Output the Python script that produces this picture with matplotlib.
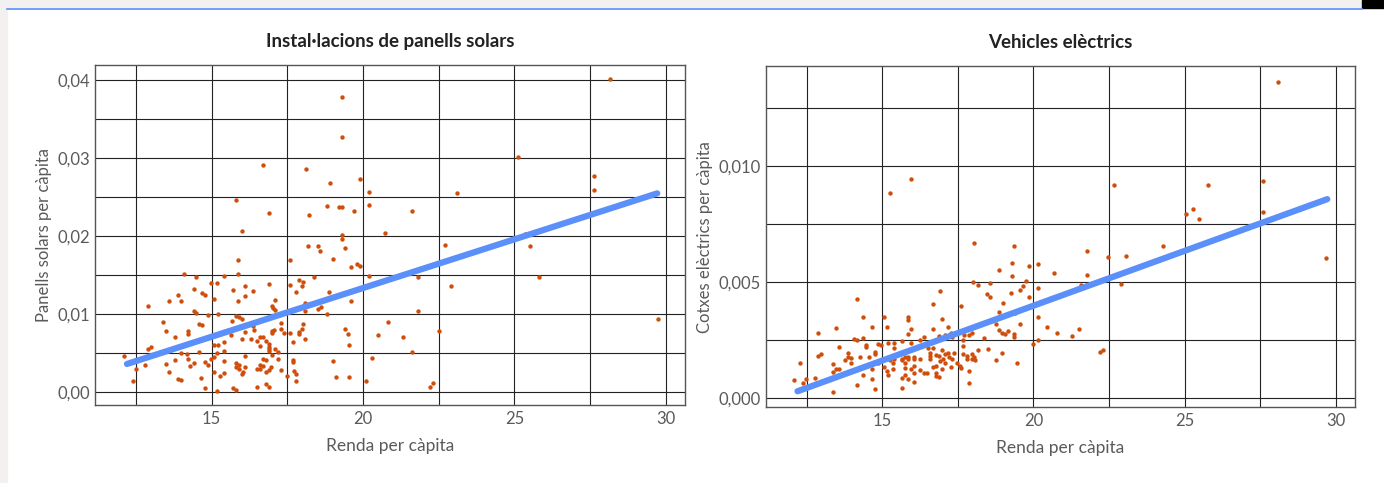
import matplotlib
matplotlib.use('Agg')
import matplotlib.pyplot as plt
from matplotlib.ticker import MultipleLocator, FuncFormatter
from matplotlib.patches import Rectangle
from matplotlib.lines import Line2D

plt.rcParams['font.family'] = ['Lato', 'DejaVu Sans']

# renda per capita (milers) vs panells solars per capita
solar_x = [12.09, 12.40, 12.49, 12.80, 12.88, 12.99, 12.88, 13.40, 13.48, 13.48, 13.59, 13.60, 13.78, 13.78,
           13.89, 13.89, 13.99, 13.99, 13.99, 14.09, 14.19, 14.20, 14.20, 14.20, 14.28, 14.40, 14.40, 14.40,
           14.48, 14.48, 14.58, 14.58, 14.66, 14.68, 14.69, 14.78, 14.79, 14.79, 14.89, 14.89, 14.98, 14.99,
           15.09, 15.09, 15.09, 15.09, 15.19, 15.19, 15.19, 15.20, 15.22, 15.28, 15.39, 15.39, 15.39, 15.39,
           15.39, 15.63, 15.68, 15.69, 15.69, 15.79, 15.79, 15.79, 15.79, 15.88, 15.88, 15.88, 15.89, 15.89,
           15.91, 15.99, 15.99, 16.00, 16.02, 16.09, 16.09, 16.09, 16.09, 16.09, 16.29, 16.38, 16.38,
           16.40, 16.48, 16.49, 16.49, 16.59, 16.59, 16.59, 16.61, 16.69, 16.69, 16.70, 16.79, 16.80, 16.80,
           16.80, 16.88, 16.88, 16.88, 16.88, 16.88, 16.89, 16.89, 16.96, 16.98, 16.98, 16.98, 16.98, 17.03,
           17.07, 17.09, 17.10, 17.10, 17.18, 17.20, 17.28, 17.29, 17.30, 17.39, 17.50, 17.59, 17.60, 17.60,
           17.70, 17.70, 17.70, 17.71, 17.80, 17.80, 17.80, 17.90, 17.90, 17.90, 17.99, 17.99, 18.01, 18.01,
           18.09, 18.09, 18.09, 18.39, 18.50, 18.58, 18.61, 18.80, 18.89, 19.00, 19.00, 19.11, 19.41, 19.50,
           19.52, 19.52, 19.59, 19.60, 19.80, 19.91, 20.11, 20.20, 20.31, 20.51, 20.81, 21.31,
           28.15, 19.31, 19.31, 25.12, 16.71, 18.11, 27.62, 27.62, 18.90, 19.90, 23.12, 20.20, 20.20, 15.79,
           16.90, 18.80, 19.21, 19.31, 19.71, 21.63, 18.21, 16.00, 19.31, 19.31, 19.39, 20.71, 18.19, 18.50,
           22.70, 25.34, 25.52, 25.82, 21.82, 22.90, 21.82, 22.52, 21.61, 22.22, 22.32, 29.75]
solar_y = [0.00466, 0.00150, 0.00303, 0.00355, 0.00551, 0.00581, 0.01111, 0.00906, 0.00786, 0.00363, 0.00261,
           0.01167, 0.00714, 0.00410, 0.01244, 0.00171, 0.01167, 0.00509, 0.00158, 0.01513, 0.00487, 0.00786,
           0.00748, 0.00432, 0.00342, 0.01321, 0.01043, 0.00380, 0.01474, 0.01021, 0.00872, 0.00521, 0.00184,
           0.01269, 0.00863, 0.00389, 0.01252, 0.00060, 0.00987, 0.00350, 0.00423, 0.01406, 0.01201, 0.00603,
           0.00449, 0.00261, 0.01406, 0.00504, 0.00017, 0.01009, 0.00603, 0.00209, 0.01496, 0.00645, 0.00534,
           0.00397, 0.00248, 0.00735, 0.00919, 0.01312, 0.00051, 0.00979, 0.00372, 0.00321, 0.00034, 0.01697,
           0.01513, 0.01167, 0.00962, 0.00346, 0.00299, 0.00684, 0.00239, 0.00936, 0.00261, 0.01368, 0.01231,
           0.00774, 0.00470, 0.00321, 0.00684, 0.01303, 0.00855,
           0.00795, 0.00299, 0.00658, 0.00073, 0.00590, 0.00355, 0.00303, 0.00705, 0.00714, 0.00338, 0.00427,
           0.00662, 0.00410, 0.00256, 0.00107, 0.01385, 0.00620, 0.00585, 0.00556, 0.00526, 0.00291, 0.00064,
           0.00325, 0.01111, 0.00791, 0.00765, 0.00479, 0.01077, 0.00795, 0.00560, 0.01179, 0.01051, 0.00427,
           0.00517, 0.00808, 0.00889, 0.00286, 0.00765, 0.00214, 0.01692, 0.01380, 0.00761, 0.00650, 0.00419,
           0.00393, 0.00274, 0.01282, 0.00235, 0.00150, 0.01440, 0.00774, 0.00748, 0.01359, 0.00808, 0.01415,
           0.00880, 0.01141, 0.01043, 0.00679, 0.01474, 0.01064, 0.01812, 0.01090, 0.01000, 0.01282, 0.01709,
           0.00402, 0.00197, 0.00812, 0.00744, 0.00603, 0.00192, 0.01611, 0.01171, 0.01645, 0.01624, 0.00150,
           0.01496, 0.00436, 0.00735, 0.00902, 0.00709,
           0.0401, 0.0378, 0.0327, 0.0302, 0.0291, 0.0286, 0.0277, 0.0259, 0.0268, 0.0273, 0.0256, 0.0257,
           0.0240, 0.0247, 0.0230, 0.0239, 0.0238, 0.0237, 0.0233, 0.0233, 0.0227, 0.0207, 0.0201, 0.0196,
           0.0185, 0.0204, 0.0188, 0.0188, 0.0189, 0.0203, 0.0188, 0.0148, 0.0148, 0.0136, 0.0104, 0.0078,
           0.0051, 0.0007, 0.0012, 0.0094]

# renda per capita vs cotxes electrics per capita
ev_x = [14.18, 14.35, 15.07, 15.15, 15.87, 15.87, 15.97, 15.87, 14.66, 13.46, 12.88, 14.07, 14.16, 14.37,
        13.57, 14.47, 14.47, 14.86, 14.97, 15.19, 15.38, 15.38, 15.67, 15.95, 16.25, 16.37, 12.97, 12.88,
        13.87, 13.86, 13.77, 13.97, 14.28, 14.77, 14.77, 14.57, 13.97, 13.38, 13.48, 13.57, 13.38, 12.27,
        12.48, 12.79, 12.08, 12.38, 13.38, 14.16, 14.35, 14.65, 14.66, 14.77, 14.86, 15.07, 15.16, 15.19,
        15.27, 15.37, 15.37, 15.38, 15.67, 15.76, 15.86, 15.87, 15.67, 16.06, 16.06, 16.25, 15.77, 16.06,
        15.77, 15.97, 16.26, 15.76, 15.86, 15.67, 16.06, 16.06, 15.65, 16.37,
        19.28, 19.87, 20.16, 18.87, 19.28, 20.67, 17.99, 18.17, 18.57, 19.76, 19.67, 19.56, 20.17, 16.90,
        18.48, 18.57, 19.27, 19.87, 16.68, 17.60, 18.98, 18.87, 19.38, 16.98, 20.16, 18.77, 19.57, 16.68,
        17.17, 18.87, 20.46, 20.77, 21.27, 21.51, 17.28, 17.07, 16.89, 17.30, 17.70, 17.87, 17.98, 17.68,
        18.37, 18.96, 19.06, 19.17, 19.37, 19.37, 19.98, 20.16, 16.50, 16.69, 17.68, 18.17, 18.49, 18.97,
        18.77, 19.47, 16.59, 16.59, 16.59, 16.79, 16.89, 16.97, 17.09, 17.17, 17.21, 17.30, 17.39, 16.90,
        17.00, 17.08, 17.48, 17.28, 17.58, 17.60, 17.69, 17.79, 17.79, 17.98, 18.05, 18.07, 17.98, 16.79,
        16.69, 16.98, 16.77, 16.79, 16.89, 16.49, 17.88, 17.88,
        28.08, 15.27, 15.96, 22.67, 25.79, 27.58, 27.58, 25.06, 25.28, 25.48, 29.67, 18.05, 19.37, 21.77,
        22.48, 23.08, 24.28, 21.77, 22.89, 21.57, 22.19, 22.29]
ev_y = [0.00428, 0.00351, 0.00349, 0.00310, 0.00349, 0.00336, 0.00300, 0.00279, 0.00309, 0.00305, 0.00282,
        0.00256, 0.00250, 0.00259, 0.00220, 0.00230, 0.00220, 0.00233, 0.00230, 0.00240, 0.00237, 0.00216,
        0.00247, 0.00240, 0.00253, 0.00264, 0.00191, 0.00181, 0.00194, 0.00180, 0.00164, 0.00175, 0.00178,
        0.00200, 0.00191, 0.00180, 0.00151, 0.00148, 0.00125, 0.00126, 0.00116, 0.00152, 0.00086, 0.00089,
        0.00078, 0.00065, 0.00029, 0.00057, 0.00099, 0.00125, 0.00082, 0.00042, 0.00151, 0.00134, 0.00119,
        0.00099, 0.00165, 0.00152, 0.00125, 0.00168, 0.00171, 0.00178, 0.00180, 0.00171, 0.00165, 0.00180,
        0.00171, 0.00171, 0.00151, 0.00141, 0.00131, 0.00126, 0.00124, 0.00101, 0.00085, 0.00088, 0.00108,
        0.00069, 0.00045, 0.00108,
        0.00585, 0.00572, 0.00578, 0.00555, 0.00529, 0.00542, 0.00501, 0.00491, 0.00497, 0.00506, 0.00483,
        0.00466, 0.00476, 0.00463, 0.00451, 0.00437, 0.00455, 0.00438, 0.00409, 0.00399, 0.00412, 0.00372,
        0.00369, 0.00342, 0.00349, 0.00319, 0.00320, 0.00300, 0.00306, 0.00297, 0.00306, 0.00282, 0.00270,
        0.00300, 0.00283, 0.00273, 0.00269, 0.00264, 0.00272, 0.00272, 0.00282, 0.00253, 0.00262, 0.00282,
        0.00279, 0.00292, 0.00277, 0.00266, 0.00236, 0.00250, 0.00217, 0.00217, 0.00226, 0.00210, 0.00213,
        0.00194, 0.00167, 0.00151, 0.00194, 0.00181, 0.00168, 0.00187, 0.00182, 0.00210, 0.00191, 0.00195,
        0.00177, 0.00172, 0.00195, 0.00162, 0.00171, 0.00151, 0.00152, 0.00135, 0.00141, 0.00131, 0.00191,
        0.00182, 0.00172, 0.00190, 0.00180, 0.00167, 0.00168, 0.00139, 0.00134, 0.00126, 0.00108, 0.00096,
        0.00093, 0.00108, 0.00118, 0.00066,
        0.01365, 0.00886, 0.00945, 0.00919, 0.00922, 0.00937, 0.00802, 0.00796, 0.00816, 0.00773, 0.00606,
        0.00668, 0.00658, 0.00634, 0.00609, 0.00615, 0.00658, 0.00531, 0.00494, 0.00491, 0.00201, 0.00211]

# recta de regressio (extrems llegits del grafic)
fit_x = [12.2, 29.72]
solar_fit = [0.00363, 0.0255]
ev_fit = [0.00031, 0.00859]

panels = [
    ('Instal·lacions de panells solars', 'Panells solars per càpita', solar_x, solar_y, solar_fit,
     (-0.00163, 0.04196), 0.01, 0.005, 2, [0.069, 0.1615, 0.426, 0.704]),
    ('Vehicles elèctrics', 'Cotxes elèctrics per càpita', ev_x, ev_y, ev_fit,
     (-0.000375, 0.01432), 0.005, 0.0025, 3, [0.5535, 0.157, 0.4256, 0.706]),
]

fig = plt.figure(figsize=(13.84, 4.83), dpi=100)
W, H = 1384, 483

# franja grisa i linia blava de la pagina
fig.patches.append(Rectangle((0, 0), 7 / W, 1, transform=fig.transFigure, color='#f2f1ef', zorder=0))
fig.patches.append(Rectangle((0, 1 - 8 / H), 1, 8 / H, transform=fig.transFigure, color='#f2f1ef', zorder=0))
fig.patches.append(Rectangle((1362 / W, 1 - 8 / H), 22 / W, 8 / H, transform=fig.transFigure,
                             color='black', zorder=1))
fig.lines.append(Line2D([7 / W, 1362 / W], [1 - 8.5 / H, 1 - 8.5 / H], transform=fig.transFigure,
                        color='#5b8ff9', lw=1.2))

for title, ylabel, xs, ys, fit, ylim, major, minor, ndec, rect in panels:
    ax = fig.add_axes(rect)
    ax.scatter(xs, ys, s=10, color='#cf4e0c', linewidths=0, zorder=3)
    ax.plot(fit_x, fit, color='#5b8ff9', lw=4.5, solid_capstyle='round', zorder=4)
    ax.set_xlim(11.16, 30.64)
    ax.set_ylim(*ylim)
    ax.xaxis.set_major_locator(MultipleLocator(5))
    ax.xaxis.set_minor_locator(MultipleLocator(2.5))
    ax.yaxis.set_major_locator(MultipleLocator(major))
    ax.yaxis.set_minor_locator(MultipleLocator(minor))
    ax.yaxis.set_major_formatter(FuncFormatter(lambda v, p, n=ndec: f'{v:.{n}f}'.replace('.', ',')))
    ax.xaxis.set_major_formatter(FuncFormatter(lambda v, p: f'{v:.0f}'))
    ax.grid(True, which='both', color='#222222', lw=0.8, zorder=1)
    ax.set_axisbelow(True)
    ax.tick_params(which='both', length=0, labelsize=12, labelcolor='#5a5a5a', pad=4)
    for sp in ax.spines.values():
        sp.set_color('#555555')
        sp.set_linewidth(1.0)
    ax.set_title(title, fontsize=13.5, fontweight='bold', color='#222222', pad=13)
    ax.set_xlabel('Renda per càpita', fontsize=12.5, color='#5a5a5a', labelpad=8)
    ax.set_ylabel(ylabel, fontsize=12, color='#5a5a5a', labelpad=4)

fig.savefig('out.png', dpi=100, facecolor='white')
